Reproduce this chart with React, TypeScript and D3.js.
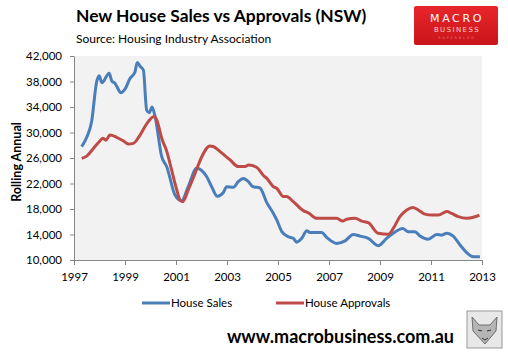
import React, { useEffect, useRef } from "react";
import * as d3 from "d3";

// Rolling annual totals (decimal year, value)
const salesYears = [
  1997.3, 1997.5, 1997.69, 1997.89, 1997.99, 1998.09, 1998.38, 1998.48, 1998.61, 1998.84,
  1999.0, 1999.2, 1999.39, 1999.48, 1999.59, 1999.72, 1999.85, 1999.95, 2000.06, 2000.18,
  2000.44, 2000.64, 2000.96, 2001.22, 2001.48, 2001.81, 2002.2, 2002.4, 2002.62, 2002.85,
  2002.99, 2003.25, 2003.44, 2003.64, 2003.84, 2004.01, 2004.29, 2004.56, 2004.82, 2004.95,
  2005.15, 2005.4, 2005.6, 2005.73, 2005.93, 2006.13, 2006.25, 2006.71, 2006.91, 2007.3,
  2007.63, 2007.95, 2008.22, 2008.54, 2008.93, 2009.26, 2009.52, 2009.89, 2010.11, 2010.37,
  2010.57, 2010.89, 2011.22, 2011.42, 2011.62, 2011.87, 2012.14, 2012.4, 2012.66, 2012.92,
];
const salesValues = [
  27800, 29250, 31700, 38000, 38900, 37800, 39300, 38100, 37700, 36250,
  36800, 38500, 39500, 41000, 40400, 39800, 33500, 33100, 34000, 32500,
  26200, 24600, 20200, 19300, 21500, 24400, 23100, 21500, 20000, 20550,
  21500, 21400, 22300, 22800, 22300, 21500, 21300, 19000, 17300, 16300,
  14450, 13650, 13400, 12800, 13400, 14600, 14300, 14300, 13550, 12600,
  13000, 14000, 13750, 13400, 12250, 13400, 14200, 14950, 14450, 14450,
  13750, 13250, 14000, 13900, 14200, 13750, 12350, 11150, 10500, 10500,
];

const approvalYears = [
  1997.3, 1997.5, 1997.76, 1997.99, 1998.13, 1998.25, 1998.41, 1998.67, 1998.93, 1999.13,
  1999.33, 1999.59, 1999.85, 2000.14, 2000.24, 2000.44, 2000.64, 2000.83, 2001.03, 2001.16,
  2001.26, 2001.48, 2001.75, 2002.01, 2002.33, 2002.46, 2002.73, 2003.12, 2003.44, 2003.71,
  2003.84, 2004.16, 2004.42, 2004.56, 2004.82, 2004.95, 2005.21, 2005.34, 2005.6, 2005.99,
  2006.19, 2006.52, 2007.3, 2007.54, 2007.69, 2008.02, 2008.28, 2008.54, 2008.93, 2009.33,
  2009.52, 2009.78, 2010.05, 2010.28, 2010.5, 2010.76, 2011.03, 2011.29, 2011.62, 2011.81,
  2012.07, 2012.4, 2012.66, 2012.9,
];
const approvalValues = [
  25950, 26300, 27500, 28550, 29100, 28800, 29600, 29250, 28700, 28200,
  28300, 29600, 31350, 32500, 32000, 29100, 27000, 24100, 21000, 19400,
  19150, 21000, 23600, 26200, 27900, 27800, 27000, 25700, 24650, 24650,
  24900, 24550, 23300, 22800, 21500, 21250, 19950, 19950, 19150, 17750,
  17400, 16550, 16550, 16100, 16400, 16550, 16100, 15850, 14200, 14050,
  14950, 16800, 17850, 18250, 17850, 17200, 17050, 17050, 17600, 17300,
  16800, 16550, 16700, 17050,
];

const yTicks = [10000, 14000, 18000, 22000, 26000, 30000, 34000, 38000, 42000];
const xTicks = [1997, 1999, 2001, 2003, 2005, 2007, 2009, 2011, 2013];
const seriesNames = ["House Sales", "House Approvals"];
const colors = ["#4A7EBB", "#BE4B48"];

const FONT = "Lato, 'Open Sans', sans-serif";

const App = () => {
  const svgRef = useRef<SVGSVGElement>(null);

  useEffect(() => {
    const svg = d3.select(svgRef.current);
    svg.selectAll("*").remove();

    const left = 74, right = 482, top = 56, bottom = 260;

    const x = d3.scaleLinear().domain([1997, 2013]).range([left, right]);
    const y = d3.scaleLinear().domain([10000, 42000]).range([bottom, top]);

    svg.append("rect").attr("width", 508).attr("height", 361).attr("fill", "#fff");

    // plot background
    svg.append("rect")
      .attr("x", left).attr("y", top)
      .attr("width", right - left).attr("height", bottom - top)
      .attr("fill", "#F2F2F2");

    // title block
    svg.append("text")
      .attr("x", 76).attr("y", 22)
      .attr("font-family", FONT).attr("font-weight", "bold").attr("font-size", 17.4)
      .attr("fill", "#000")
      .text("New House Sales vs Approvals (NSW)");
    svg.append("text")
      .attr("x", 76).attr("y", 43)
      .attr("font-family", FONT).attr("font-size", 12)
      .attr("fill", "#000")
      .text("Source:  Housing Industry Association");

    // logo
    const logo = svg.append("g");
    const grad = svg.append("defs").append("linearGradient")
      .attr("id", "logoGrad").attr("x1", 0).attr("x2", 0).attr("y1", 0).attr("y2", 1);
    grad.append("stop").attr("offset", "0%").attr("stop-color", "#E8262A");
    grad.append("stop").attr("offset", "100%").attr("stop-color", "#C9151B");
    logo.append("rect")
      .attr("x", 414).attr("y", 6).attr("width", 84).attr("height", 39)
      .attr("rx", 2).attr("fill", "url(#logoGrad)");
    logo.append("text")
      .attr("x", 457).attr("y", 22).attr("text-anchor", "middle")
      .attr("font-family", "'DejaVu Sans', sans-serif").attr("font-size", 11)
      .attr("letter-spacing", 2.6).attr("fill", "#fff")
      .text("MACRO");
    logo.append("text")
      .attr("x", 457).attr("y", 32).attr("text-anchor", "middle")
      .attr("font-family", "'DejaVu Sans', sans-serif").attr("font-size", 7)
      .attr("letter-spacing", 1.4).attr("fill", "#fcc")
      .text("BUSINESS");
    logo.append("text")
      .attr("x", 457).attr("y", 39).attr("text-anchor", "middle")
      .attr("font-family", "'DejaVu Sans', sans-serif").attr("font-size", 3.5)
      .attr("letter-spacing", 1.8).attr("fill", "#e77")
      .text("SUPERBLOG");

    // y axis
    const yAxis = svg.append("g")
      .attr("transform", `translate(${left},0)`)
      .call(d3.axisLeft(y).tickValues(yTicks).tickSize(4).tickSizeOuter(0)
        .tickPadding(8).tickFormat(d3.format(",")));
    yAxis.select(".domain").attr("stroke", "#868686");
    yAxis.selectAll(".tick line").attr("stroke", "#868686");
    yAxis.selectAll("text")
      .attr("font-family", FONT).attr("font-size", 11.5).attr("fill", "#000");

    // x axis
    const xAxis = svg.append("g")
      .attr("transform", `translate(0,${bottom})`)
      .call(d3.axisBottom(x).tickValues(xTicks).tickSize(5).tickSizeOuter(0)
        .tickPadding(8).tickFormat(d3.format("d")));
    xAxis.select(".domain").attr("stroke", "#868686");
    xAxis.selectAll(".tick line").attr("stroke", "#868686");
    xAxis.selectAll("text")
      .attr("font-family", FONT).attr("font-size", 11.5).attr("fill", "#000");

    // y axis label
    svg.append("text")
      .attr("transform", "rotate(-90)")
      .attr("x", -162).attr("y", 21)
      .attr("text-anchor", "middle")
      .attr("font-family", FONT).attr("font-weight", "bold").attr("font-size", 12.5)
      .attr("fill", "#000")
      .text("Rolling Annual");

    // lines
    const line = d3.line<[number, number]>()
      .x((d) => x(d[0]))
      .y((d) => y(d[1]))
      .curve(d3.curveMonotoneX);

    const series: [number, number][][] = [
      salesYears.map((yr, i) => [yr, salesValues[i]]),
      approvalYears.map((yr, i) => [yr, approvalValues[i]]),
    ];

    // approvals drawn last, on top
    [0, 1].forEach((i) => {
      svg.append("path")
        .datum(series[i])
        .attr("fill", "none")
        .attr("stroke", colors[i])
        .attr("stroke-width", 3)
        .attr("stroke-linejoin", "round")
        .attr("d", line);
    });

    // legend
    const legendX = [142, 276];
    seriesNames.forEach((name, i) => {
      const g = svg.append("g").attr("transform", `translate(${legendX[i]},303)`);
      g.append("line")
        .attr("x1", 0).attr("x2", 28).attr("y1", 0).attr("y2", 0)
        .attr("stroke", colors[i]).attr("stroke-width", 3);
      g.append("text")
        .attr("x", 29).attr("y", 4)
        .attr("font-family", FONT).attr("font-size", 11.5).attr("fill", "#000")
        .text(name);
    });

    // footer
    svg.append("text")
      .attr("x", 454).attr("y", 343).attr("text-anchor", "end")
      .attr("font-family", FONT).attr("font-weight", "bold").attr("font-size", 18)
      .attr("fill", "#000")
      .text("www.macrobusiness.com.au");

    // fox badge
    const fox = svg.append("g").attr("transform", "translate(467,311)");
    fox.append("rect")
      .attr("width", 35).attr("height", 37)
      .attr("fill", "#e8e8e8").attr("stroke", "#999").attr("stroke-width", 1);
    fox.append("path")
      .attr("d", "M5,6 L12,14 L23,14 L30,6 L29,20 L18,33 L6,20 Z")
      .attr("fill", "#b5b5b5").attr("stroke", "#555").attr("stroke-width", 0.8);
    fox.append("path")
      .attr("d", "M11,19 L15,20 M20,20 L24,19 M15,27 L18,29 L21,27")
      .attr("stroke", "#333").attr("stroke-width", 1).attr("fill", "none");
  }, []);

  return (
    <svg
      ref={svgRef}
      width={508}
      height={361}
      style={{ position: "absolute", left: 0, top: 0 }}
    />
  );
};

export default App;
